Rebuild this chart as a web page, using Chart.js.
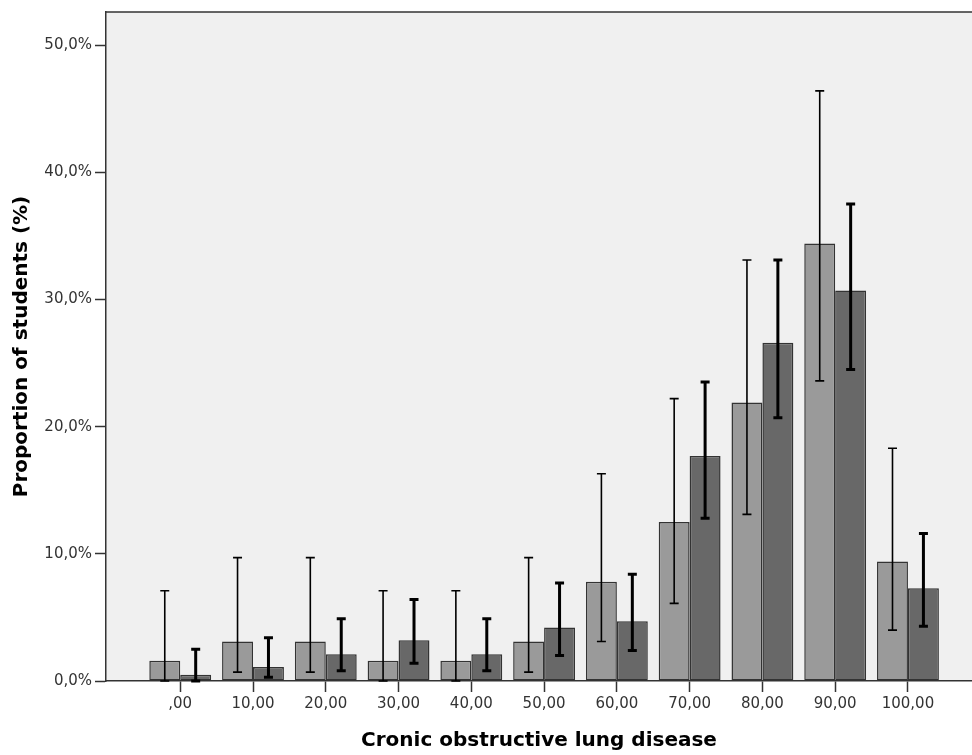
<!DOCTYPE html>
<html>
<head>
<meta charset="utf-8">
<title>Cronic obstructive lung disease</title>
<script src="https://cdn.jsdelivr.net/npm/chart.js@4.4.1/dist/chart.umd.min.js"></script>
<style>
    html, body { margin: 0; padding: 0; background: #ffffff; }
    #wrap { width: 972px; height: 755px; position: relative; }
</style>
</head>
<body>
<div id="wrap"><canvas id="chart"></canvas></div>
<script>
// score groups on the x axis and their printed labels
const xValues = [0, 10, 20, 30, 40, 50, 60, 70, 80, 90, 100];
const xLabels = [',00', '10,00', '20,00', '30,00', '40,00', '50,00', '60,00', '70,00', '80,00', '90,00', '100,00'];
const yTicks = [0, 10, 20, 30, 40, 50];

// proportion of students (%) - light series
const lightValues = [1.6, 3.1, 3.1, 1.6, 1.6, 3.1, 7.8, 12.5, 21.9, 34.4, 9.4];
const lightLow    = [0.0, 0.7, 0.7, 0.0, 0.0, 0.7, 3.1, 6.1, 13.1, 23.6, 4.0];
const lightHigh   = [7.1, 9.7, 9.7, 7.1, 7.1, 9.7, 16.3, 22.2, 33.1, 46.4, 18.3];

// proportion of students (%) - dark series
const darkValues = [0.5, 1.1, 2.1, 3.2, 2.1, 4.2, 4.7, 17.7, 26.6, 30.7, 7.3];
const darkLow    = [0.0, 0.3, 0.8, 1.4, 0.8, 2.0, 2.4, 12.8, 20.7, 24.5, 4.3];
const darkHigh   = [2.5, 3.4, 4.9, 6.4, 4.9, 7.7, 8.4, 23.5, 33.1, 37.5, 11.6];

const fmtComma = (v, d) => v.toFixed(d).replace('.', ',');

// plot background + top frame line
const plotFrame = {
    id: 'plotFrame',
    beforeDraw(chart) {
        const { ctx, chartArea: a } = chart;
        ctx.save();
        ctx.fillStyle = '#f0f0f0';
        ctx.fillRect(a.left, a.top, a.right - a.left, a.bottom - a.top);
        ctx.strokeStyle = '#333333';
        ctx.lineWidth = 1.5;
        ctx.beginPath();
        ctx.moveTo(a.left, a.top);
        ctx.lineTo(a.right, a.top);
        ctx.stroke();
        ctx.restore();
    }
};

// confidence interval whiskers
const errorBars = {
    id: 'errorBars',
    afterDatasetsDraw(chart) {
        const { ctx } = chart;
        const y = chart.scales.y;
        chart.data.datasets.forEach((ds, di) => {
            const meta = chart.getDatasetMeta(di);
            ctx.save();
            ctx.strokeStyle = '#000000';
            ctx.lineWidth = ds.errWidth;
            meta.data.forEach((bar, i) => {
                const top = y.getPixelForValue(ds.high[i]);
                const bot = y.getPixelForValue(ds.low[i]);
                const cap = 4.5;
                ctx.beginPath();
                ctx.moveTo(bar.x, top);
                ctx.lineTo(bar.x, bot);
                ctx.moveTo(bar.x - cap, top);
                ctx.lineTo(bar.x + cap, top);
                ctx.moveTo(bar.x - cap, bot);
                ctx.lineTo(bar.x + cap, bot);
                ctx.stroke();
            });
            ctx.restore();
        });
    }
};

new Chart(document.getElementById('chart'), {
    type: 'bar',
    data: {
        datasets: [
            {
                label: 'light',
                data: xValues.map((x, i) => ({ x: x, y: lightValues[i] })),
                low: lightLow,
                high: lightHigh,
                errWidth: 1.6,
                backgroundColor: '#9a9a9a',
                borderColor: '#333333',
                borderWidth: 1.5,
                borderSkipped: false
            },
            {
                label: 'dark',
                data: xValues.map((x, i) => ({ x: x, y: darkValues[i] })),
                low: darkLow,
                high: darkHigh,
                errWidth: 3,
                backgroundColor: '#686868',
                borderColor: '#333333',
                borderWidth: 1.5,
                borderSkipped: false
            }
        ]
    },
    options: {
        responsive: true,
        maintainAspectRatio: false,
        animation: false,
        categoryPercentage: 0.85,
        barPercentage: 1.0,
        layout: { padding: { top: 12, left: 0, right: 0, bottom: 0 } },
        plugins: {
            legend: { display: false },
            tooltip: { enabled: false }
        },
        scales: {
            x: {
                type: 'linear',
                offset: false,
                min: -10.2,
                max: 108.8,
                afterBuildTicks(scale) { scale.ticks = xValues.map(v => ({ value: v })); },
                afterFit(scale) { scale.height = 74; },
                grid: { offset: false, drawOnChartArea: false, drawTicks: true, tickLength: 11, tickColor: '#333333', tickWidth: 1.5 },
                border: { display: true, color: '#333333', width: 1.5 },
                ticks: {
                    autoSkip: false,
                    maxRotation: 0,
                    padding: 3,
                    color: '#333333',
                    font: { family: 'DejaVu Sans', size: 15 },
                    callback: (v) => xLabels[xValues.indexOf(v)]
                },
                title: {
                    display: true,
                    text: 'Cronic obstructive lung disease',
                    color: '#000000',
                    font: { family: 'DejaVu Sans', size: 20, weight: 'bold' },
                    padding: { top: 0, bottom: 2 }
                }
            },
            y: {
                min: 0,
                max: 52.6,
                afterBuildTicks(scale) { scale.ticks = yTicks.map(v => ({ value: v })); },
                afterFit(scale) { scale.width = 106; },
                grid: { drawOnChartArea: false, drawTicks: true, tickLength: 11, tickColor: '#333333', tickWidth: 1.5 },
                border: { display: true, color: '#333333', width: 1.5 },
                ticks: {
                    padding: 3,
                    color: '#333333',
                    font: { family: 'DejaVu Sans', size: 15 },
                    callback: (v) => fmtComma(v, 1) + '%'
                },
                title: {
                    display: true,
                    text: 'Proportion of students (%)',
                    color: '#000000',
                    font: { family: 'DejaVu Sans', size: 20, weight: 'bold' },
                    padding: { top: 10, bottom: 0 }
                }
            }
        }
    },
    plugins: [plotFrame, errorBars]
});
</script>
</body>
</html>
